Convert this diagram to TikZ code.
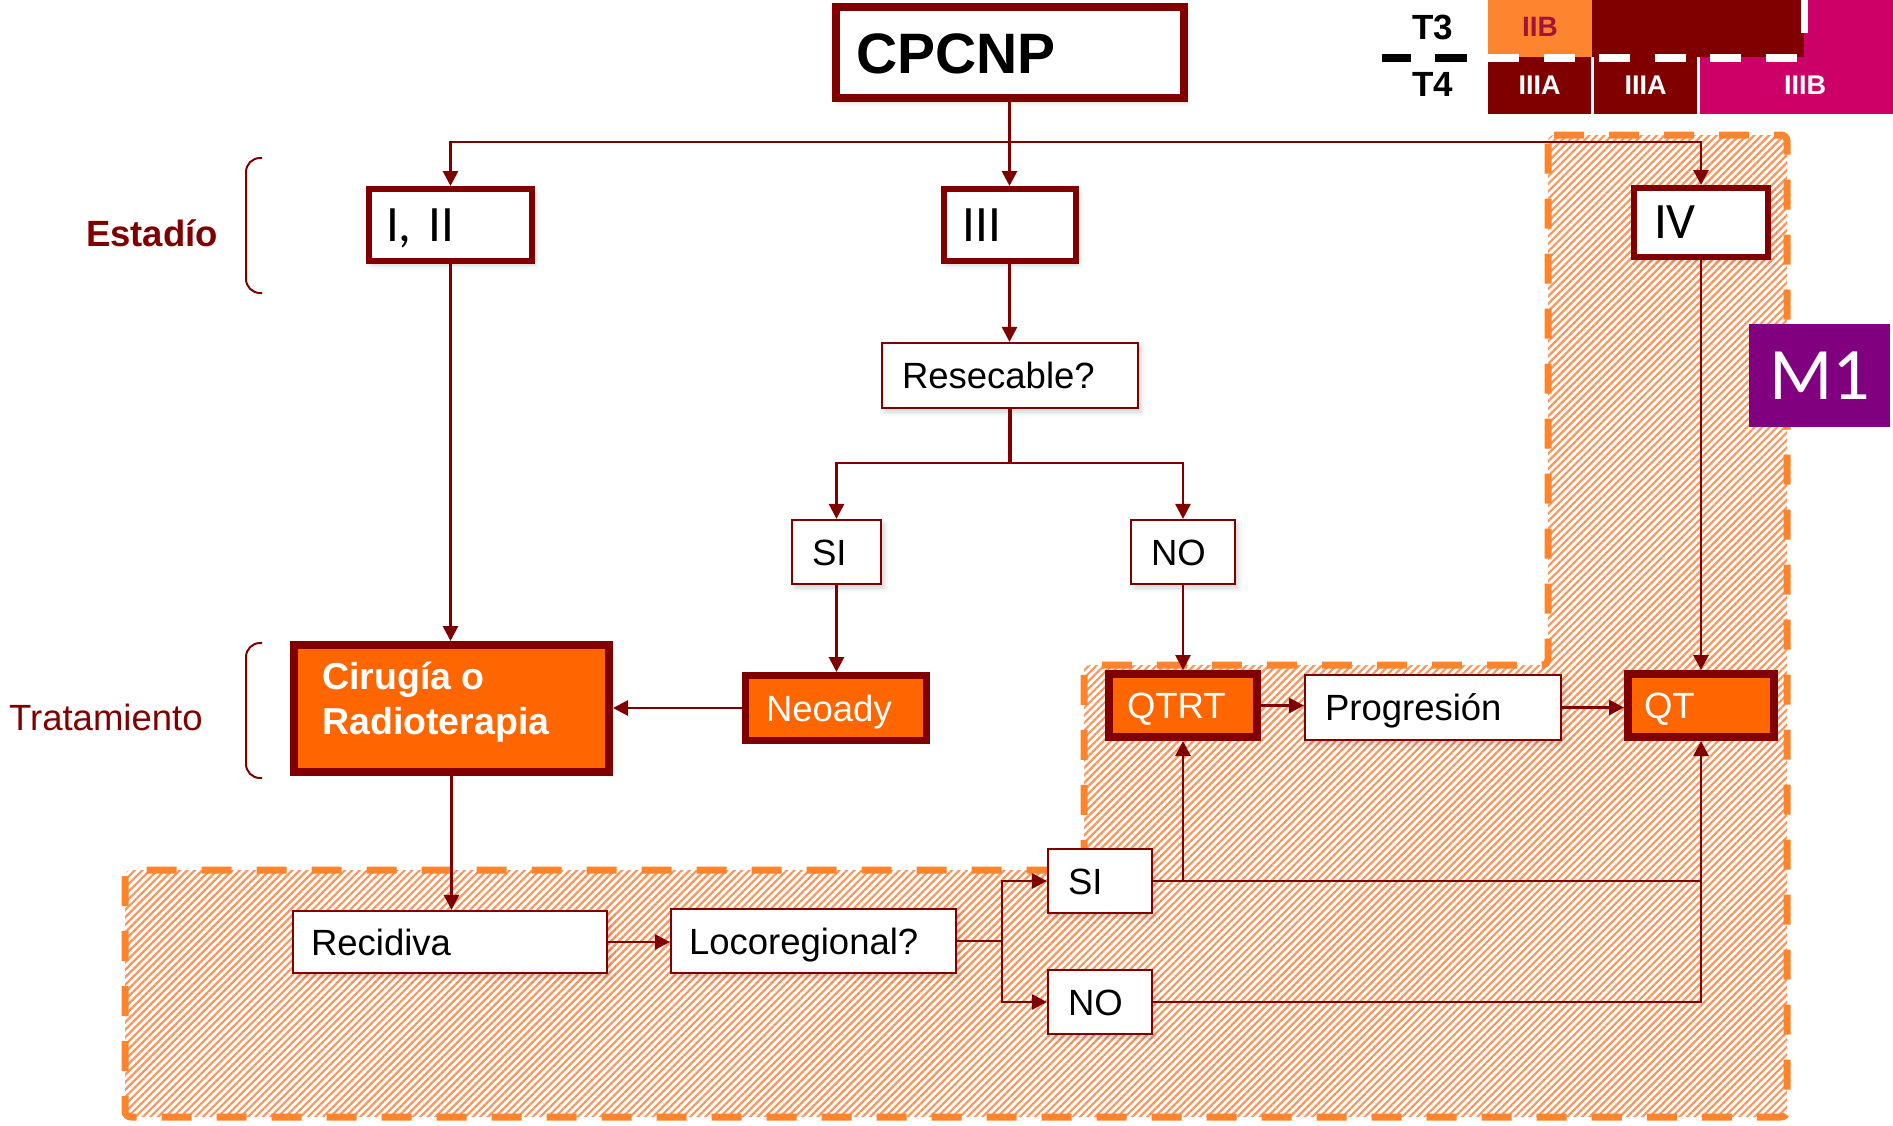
\documentclass[tikz,border=0pt]{standalone}
\usepackage{fontspec}
\setmainfont{Liberation Sans}
\newfontfamily\carl{Carlito}
\usetikzlibrary{arrows.meta,patterns.meta,shadows.blur}

\definecolor{dred}{RGB}{128,0,0}
\definecolor{ofill}{RGB}{255,102,0}
\definecolor{odash}{RGB}{252,132,44}
\definecolor{ohatch}{RGB}{250,150,92}
\definecolor{iibor}{RGB}{253,133,48}
\definecolor{iibtx}{RGB}{165,20,55}
\definecolor{mag}{RGB}{204,0,102}
\definecolor{mpurple}{RGB}{128,0,128}

\tikzset{
  sz/.style 2 args={text width=#1pt, minimum height=#2pt},
  soft/.style={blur shadow={shadow xshift=3pt, shadow yshift=-4pt, shadow opacity=18, shadow blur radius=5pt}},
  txt/.style={font=\fontsize{36.5}{44}\selectfont, text height=26pt, text depth=0pt},
  wbox/.style={draw=dred, line width=2.2pt, fill=white, txt, align=left, inner xsep=20pt, soft},
  rbox/.style={draw=dred, fill=white, align=left, soft,
    font=\carl\fontsize{51}{60}\selectfont, text height=32pt, text depth=0pt},
  obox/.style={draw=dred, fill=ofill, text=white, txt, align=left},
  wtxt/.style={font=\bfseries\fontsize{37.5}{45}\selectfont, text=white, inner sep=0pt, anchor=base west},
  ln/.style={draw=dred, line width=2.8pt},
  arr/.style={ln, -{Triangle[length=15pt, width=15pt]}},
  brace/.style={draw=dred, line width=2pt, rounded corners=14pt},
  cell/.style={inner sep=0pt, font=\bfseries\fontsize{27}{30}\selectfont, text=white},
  zone/.style={rounded corners=6pt}
}

\begin{document}
\begin{tikzpicture}[x=1pt,y=-1pt, every node/.style={inner ysep=0pt}]
\useasboundingbox (0,0) rectangle (1893,1125);

% hatched zone of recurrence / metastatic disease
\path[zone, pattern={Lines[angle=45, distance=5.3pt, line width=2.2pt]}, pattern color=ohatch]
  (1548,135) -- (1787,135) -- (1787,1117) -- (125,1117) -- (125,870)
  -- (1084,870) -- (1084,665) -- (1548,665) -- cycle;
\draw[zone, odash, line width=7pt, dash pattern=on 30pt off 25pt]
  (1548,135) -- (1787,135) -- (1787,1117) -- (125,1117) -- (125,870)
  -- (1084,870) -- (1084,665) -- (1548,665) -- cycle;

% T / stage table
\fill[iibor] (1488,0) rectangle (1592,57);
\fill[dred] (1592,0) rectangle (1804,57);
\fill[mag] (1804,0) rectangle (1893,57);
\fill[mag] (1700,57) rectangle (1893,114);
\node[cell, text=iibtx, font=\bfseries\fontsize{28}{30}\selectfont] (iib) at (1540,27) {IIB};
\node[cell, fill=dred, minimum width=103pt, minimum height=57pt] (iiia1) at (1539.5,85.5) {IIIA};
\node[cell, fill=dred, minimum width=103pt, minimum height=57pt] (iiia2) at (1645.5,85.5) {IIIA};
\node[cell] (iiib) at (1805,85.5) {IIIB};
\draw[white, line width=8pt, dash pattern=on 31pt off 24.5pt] (1488,57.5) -- (1808,57.5);
\draw[white, line width=7pt] (1804,0) -- (1804,33);
\node[font=\bfseries\fontsize{35}{40}\selectfont, anchor=base west, inner sep=0pt] (t3) at (1412,39) {T3};
\node[font=\bfseries\fontsize{35}{40}\selectfont, anchor=base west, inner sep=0pt] (t4) at (1412,96) {T4};
\draw[line width=8pt] (1382,57.5) -- (1411,57.5);
\draw[line width=8pt] (1435,57.5) -- (1467,57.5);

% side labels and braces
\node[font=\bfseries\fontsize{36.5}{44}\selectfont, text=dred, anchor=base west, inner sep=0pt] (est) at (86,246) {Estadío};
\node[font=\fontsize{36.5}{44}\selectfont, text=dred, anchor=base west, inner sep=0pt] (trat) at (9,730) {Tratamiento};
\draw[brace] (262,158) -- (246,158) -- (246,293) -- (262,293);
\draw[brace] (262,643) -- (246,643) -- (246,778) -- (262,778);

% boxes
\node[rbox, line width=8pt, inner xsep=21pt, sz={306}{91},
  font=\bfseries\fontsize{57}{64}\selectfont, text height=41pt] (cp) at (1009.5,52.5) {CPCNP};
\node[rbox, line width=6pt, inner xsep=17pt, sz={129}{72}] (i2) at (450.5,225) {I,\ II};
\node[rbox, line width=6pt, inner xsep=19pt, sz={94}{72}] (iii) at (1009.5,225) {III};
\node[rbox, line width=6pt, inner xsep=20pt, sz={94}{69}] (iv) at (1701,222.5) {IV};

\node[fill=mpurple, text=white, font=\carl\fontsize{74}{80}\selectfont, inner sep=0pt,
  minimum width=141pt, minimum height=103pt] (m1) at (1819.5,375.5) {M1};

\node[wbox, sz={216}{65}] (res) at (1010,375.5) {Resecable?};
\node[wbox, sz={49}{64}] (si1) at (836.5,552) {SI};
\node[wbox, sz={64}{64}] (no1) at (1183,552) {NO};

\node[obox, line width=8pt, minimum width=315pt, minimum height=127pt] (cir) at (451.5,708.5) {};
\node[wtxt] (cir1) at (322,689) {Cirugía o};
\node[wtxt] (cir2) at (322,734) {Radioterapia};
\node[obox, line width=7pt, inner xsep=20.5pt, sz={140}{65}] (neo) at (836,708) {Neoady};
\node[obox, line width=8pt, inner xsep=18pt, sz={112}{63}] (qtrt) at (1183,705.5) {QTRT};
\node[wbox, sz={216}{65}] (prog) at (1433,707.5) {Progresión};
\node[obox, line width=8pt, inner xsep=16pt, sz={114}{63}] (qt) at (1701,705.5) {QT};

\node[wbox, inner xsep=18pt, sz={278}{62}] (rec) at (450,942) {Recidiva};
\node[wbox, inner xsep=18pt, sz={249}{64}] (loc) at (813.5,941) {Locoregional?};
\node[wbox, sz={64}{64}] (si2) at (1100,881) {SI};
\node[wbox, sz={64}{64}] (no2) at (1100,1002) {NO};

% connectors
\coordinate (jt) at (1009.5,142);
\draw[ln] (cp.south) -- (jt);
\draw[arr] (jt) -| (i2.north);
\draw[arr] (jt) -- (iii.north);
\draw[arr] (jt) -| (iv.north);

\draw[arr] (iii.south) -- (iii.south |- res.north);
\coordinate (jr) at (1010,463);
\draw[ln, line width=4pt] (res.south) -- (jr);
\draw[arr] (jr) -| (si1.north);
\draw[arr] (jr) -| (no1.north);

\draw[arr] (si1.south) -- (si1.south |- neo.north);
\draw[arr] (no1.south) -- (qtrt.north);
\draw[arr] (neo.west) -- (neo.west -| cir.east);
\draw[arr] (i2.south) -- (i2.south |- cir.north);
\draw[arr] (cir.south) -- (cir.south |- rec.north);
\draw[arr] (rec.east) -- (rec.east -| loc.west);

\coordinate (jl) at (1002,941);
\draw[ln] (loc.east) -- (jl);
\draw[arr] (jl) |- (si2.west);
\draw[arr] (jl) |- (no2.west);

\draw[arr] (qtrt.east) -- (qtrt.east -| prog.west);
\draw[arr] (prog.east) -- (prog.east -| qt.west);
\draw[arr] (iv.south) -- (qt.north);

\draw[ln] (si2.east) -- (si2.east -| qt.south);
\draw[arr] (si2.east -| qtrt.south) -- (qtrt.south);
\draw[arr] (no2.east) -| (qt.south);
\end{tikzpicture}
\end{document}
